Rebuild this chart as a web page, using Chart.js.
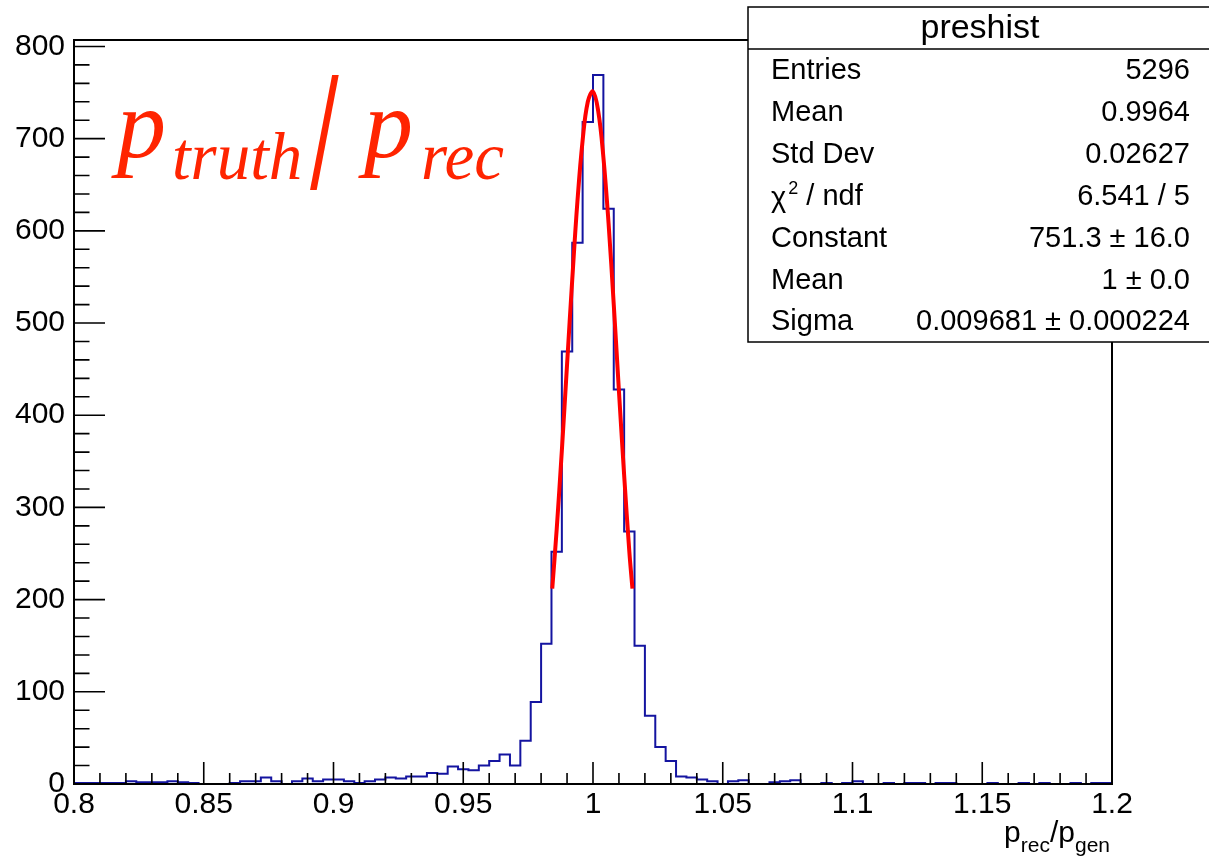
<!DOCTYPE html>
<html>
<head>
<meta charset="utf-8">
<title>preshist</title>
<script src="https://cdn.jsdelivr.net/npm/chart.js@4.4.1/dist/chart.umd.min.js"></script>
<style>
  html, body { margin: 0; padding: 0; background: #fff; }
  #wrap { width: 1209px; height: 858px; position: relative; }
</style>
</head>
<body>
<div id="wrap"><canvas id="myChart"></canvas></div>
<script>
// histogram "preshist": 100 bins from 0.8 to 1.2
const xMin = 0.8;
const xMax = 1.2;
const binWidth = 0.004;
const counts = [
    1, 1, 1, 1, 1, 3, 2, 2, 2, 3,
    2, 1, 0, 0, 0, 1, 3, 3, 7, 3,
    0, 3, 6, 3, 5, 5, 3, 1, 3, 5,
    7, 6, 8, 8, 12, 11, 19, 16, 15, 20,
    25, 32, 20, 47, 89, 152, 252, 469, 587, 718,
    769, 624, 428, 274, 150, 74, 40, 25, 8, 7,
    5, 3, 0, 3, 4, 0, 0, 2, 3, 4,
    0, 0, 1, 0, 1, 3, 0, 0, 1, 0,
    1, 1, 0, 1, 1, 0, 0, 0, 1, 0,
    0, 1, 0, 1, 0, 0, 1, 0, 1, 1
];

// gaussian fit curve
const fitX = [0.9843, 0.986, 0.988, 0.990, 0.992, 0.994, 0.996, 0.998, 1.000,
              1.002, 1.004, 1.006, 1.008, 1.010, 1.012, 1.014, 1.0152];
const fitY = [212, 276, 362, 455, 547, 632, 698, 740, 751,
              730, 680, 608, 520, 426, 335, 252, 212];

// axis ticks
const xTicks = [0.8, 0.85, 0.9, 0.95, 1, 1.05, 1.1, 1.15, 1.2];
const yTicks = [0, 100, 200, 300, 400, 500, 600, 700, 800];
const yMax = 807;

// stats box
const statsTitle = 'preshist';
const statsLabels = ['Entries', 'Mean', 'Std Dev', 'chi2', 'Constant', 'Mean', 'Sigma'];
const statsValues = ['5296', '0.9964', '0.02627', '6.541 / 5', '751.3 \u00b1 16.0', '1 \u00b1 0.0', '0.009681 \u00b1 0.000224'];

document.addEventListener('DOMContentLoaded', function() {
    const ctx = document.getElementById('myChart').getContext('2d');
    const sans = '"Liberation Sans", Arial, sans-serif';
    const serif = '"Liberation Serif", "Times New Roman", serif';
    const red = 'rgb(255, 36, 0)';

    const histPoints = counts.map((c, i) => ({ x: xMin + i * binWidth, y: c }));
    histPoints.push({ x: xMax, y: counts[counts.length - 1] });
    const fitPoints = fitX.map((x, i) => ({ x: x, y: fitY[i] }));

    // frame, inner ticks, stats box and text labels (ROOT style)
    const rootDecor = {
        id: 'rootDecor',
        afterDatasetsDraw(chart) {
            const c = chart.ctx;
            const a = chart.chartArea;
            const xs = chart.scales.x;
            const ys = chart.scales.y;
            c.save();
            c.strokeStyle = '#000';
            c.lineWidth = 2;
            c.strokeRect(a.left, a.top, a.right - a.left, a.bottom - a.top);

            // x ticks (major + 4 minor between)
            c.lineWidth = 1.6;
            c.beginPath();
            for (let i = 0; i < xTicks.length; i++) {
                const px = xs.getPixelForValue(xTicks[i]);
                c.moveTo(px, a.bottom);
                c.lineTo(px, a.bottom - 22);
                if (i < xTicks.length - 1) {
                    const step = (xTicks[i + 1] - xTicks[i]) / 5;
                    for (let k = 1; k < 5; k++) {
                        const mx = xs.getPixelForValue(xTicks[i] + k * step);
                        c.moveTo(mx, a.bottom);
                        c.lineTo(mx, a.bottom - 11);
                    }
                }
            }
            // y ticks
            for (let i = 0; i < yTicks.length; i++) {
                const py = ys.getPixelForValue(yTicks[i]);
                c.moveTo(a.left, py);
                c.lineTo(a.left + 31, py);
                if (i < yTicks.length - 1) {
                    const step = (yTicks[i + 1] - yTicks[i]) / 5;
                    for (let k = 1; k < 5; k++) {
                        const my = ys.getPixelForValue(yTicks[i] + k * step);
                        c.moveTo(a.left, my);
                        c.lineTo(a.left + 15.5, my);
                    }
                }
            }
            c.stroke();

            // big red label p_truth / p_rec
            c.fillStyle = red;
            c.textBaseline = 'alphabetic';
            c.textAlign = 'left';
            c.font = 'italic 98px ' + serif;
            c.fillText('p', 117, 157);
            c.font = 'italic 67px ' + serif;
            c.fillText('truth', 172, 179);
            c.save();
            c.translate(311, 188);
            c.scale(0.56, 1);
            c.font = 'bold 172px ' + serif;
            c.fillText('/', 0, 0);
            c.restore();
            c.font = 'italic 98px ' + serif;
            c.fillText('p', 364, 157);
            c.font = 'italic 67px ' + serif;
            c.fillText('rec', 421, 179);

            // x axis title p_rec/p_gen, right aligned to frame
            c.fillStyle = '#000';
            const parts = [
                ['p', 30, 0], ['rec', 21, 10], ['/', 30, 0], ['p', 30, 0], ['gen', 21, 10]
            ];
            let w = 0;
            parts.forEach(p => { c.font = p[1] + 'px ' + sans; w += c.measureText(p[0]).width; });
            let tx = a.right - 2 - w;
            parts.forEach(p => {
                c.font = p[1] + 'px ' + sans;
                c.fillText(p[0], tx, 842 + p[2]);
                tx += c.measureText(p[0]).width;
            });

            // stats box
            const bx = 748, by = 7, bw = 470, bh = 335;
            c.fillStyle = '#fff';
            c.fillRect(bx, by, bw, bh);
            c.lineWidth = 1.5;
            c.strokeRect(bx, by, bw, bh);
            c.beginPath();
            c.moveTo(bx, 49);
            c.lineTo(bx + bw, 49);
            c.stroke();
            c.fillStyle = '#000';
            c.textBaseline = 'middle';
            c.textAlign = 'center';
            c.font = '34px ' + sans;
            c.fillText(statsTitle, 980, 29);
            c.font = '29px ' + sans;
            for (let i = 0; i < statsLabels.length; i++) {
                const ry = 71 + i * 41.9;
                c.textAlign = 'left';
                if (statsLabels[i] === 'chi2') {
                    c.fillText('\u03c7', 771, ry + 2);
                    const cw = c.measureText('\u03c7').width;
                    c.font = '18px ' + sans;
                    c.fillText('2', 771 + cw + 2, ry - 8);
                    const sw = c.measureText('2').width;
                    c.font = '29px ' + sans;
                    c.fillText(' / ndf', 771 + cw + sw + 2, ry);
                } else {
                    c.fillText(statsLabels[i], 771, ry);
                }
                c.textAlign = 'right';
                c.fillText(statsValues[i], 1190, ry);
            }
            c.restore();
        }
    };

    const tickFont = { family: '"Liberation Sans", Arial, sans-serif', size: 30 };

    const myChart = new Chart(ctx, {
        type: 'line',
        data: {
            datasets: [{
                label: 'gaus fit',
                data: fitPoints,
                borderColor: 'rgb(255, 0, 0)',
                borderWidth: 4,
                pointRadius: 0,
                tension: 0.4,
                fill: false
            }, {
                label: 'preshist',
                data: histPoints,
                borderColor: 'rgb(20, 20, 160)',
                borderWidth: 2,
                pointRadius: 0,
                stepped: 'before',
                fill: false
            }]
        },
        options: {
            responsive: true,
            maintainAspectRatio: false,
            animation: false,
            layout: { padding: { top: 40, right: 97, left: 0, bottom: 0 } },
            plugins: {
                legend: { display: false },
                tooltip: { enabled: false }
            },
            scales: {
                x: {
                    type: 'linear',
                    min: xMin,
                    max: xMax,
                    grid: { display: false, drawTicks: false },
                    border: { display: false },
                    afterBuildTicks: s => { s.ticks = xTicks.map(v => ({ value: v })); },
                    afterFit: s => { s.height = 74; },
                    ticks: {
                        color: '#000',
                        font: tickFont,
                        padding: 3,
                        maxRotation: 0,
                        autoSkip: false,
                        callback: v => String(v)
                    }
                },
                y: {
                    type: 'linear',
                    min: 0,
                    max: yMax,
                    grid: { display: false, drawTicks: false },
                    border: { display: false },
                    afterBuildTicks: s => { s.ticks = yTicks.map(v => ({ value: v })); },
                    afterFit: s => { s.width = 74; },
                    ticks: {
                        color: '#000',
                        font: tickFont,
                        padding: 9,
                        autoSkip: false,
                        callback: v => String(v)
                    }
                }
            }
        },
        plugins: [rootDecor]
    });
});
</script>
</body>
</html>
